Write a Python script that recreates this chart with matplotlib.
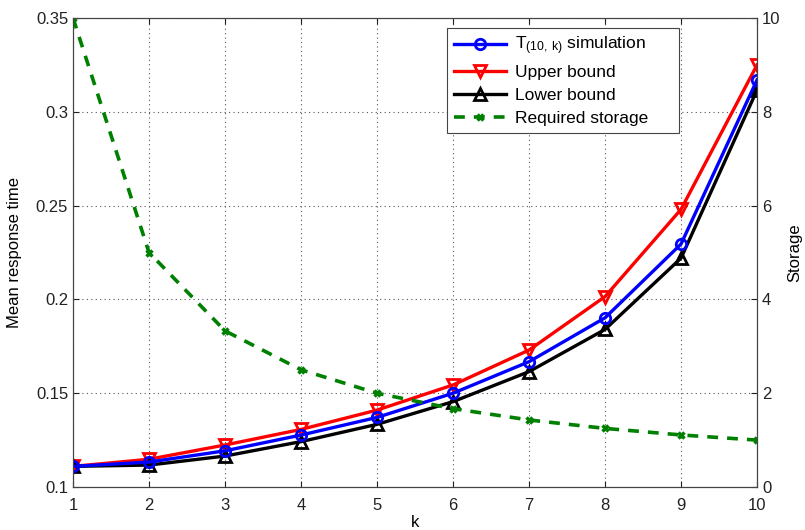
import matplotlib
matplotlib.use("Agg")
import matplotlib.pyplot as plt

plt.rcParams['font.family'] = ['Liberation Sans', 'DejaVu Sans']
plt.rcParams['mathtext.fontset'] = 'custom'
plt.rcParams['mathtext.rm'] = 'Liberation Sans'

k = [1, 2, 3, 4, 5, 6, 7, 8, 9, 10]
sim = [0.111, 0.1133, 0.1193, 0.1277, 0.1371, 0.150, 0.1668, 0.1902, 0.2295, 0.317]
upper = [0.111, 0.1148, 0.1224, 0.1307, 0.141, 0.1544, 0.173, 0.2015, 0.248, 0.325]
k_upper = [1, 2, 3, 4, 5, 6, 7, 8, 9, 10]
lower = [0.111, 0.1117, 0.1165, 0.1242, 0.1334, 0.1455, 0.1615, 0.184, 0.222, 0.3116]
storage = [10, 5, 3.33, 2.5, 2, 1.67, 1.43, 1.25, 1.11, 1]

fig = plt.figure(figsize=(8.05, 5.3), dpi=100)
ax = fig.add_axes([0.0907, 0.0811, 0.8497, 0.8849])
ax2 = ax.twinx()

l1, = ax.plot(k, sim, color='blue', lw=2.4, marker='o', ms=7.5, mfc='none', mew=2, zorder=3)
l2, = ax.plot(k_upper, upper, color='red', lw=2.4, marker='v', ms=8.5, mfc='none', mew=2, zorder=2)
l3, = ax.plot(k, lower, color='black', lw=2.4, marker='^', ms=8.5, mfc='none', mew=2, zorder=2)
l4, = ax2.plot(k, storage, color='#008000', lw=2.6, ls=(0, (3, 2.5)), marker='x', ms=5, mew=2.5)

ax.set_xlim(1, 10)
ax.set_ylim(0.1, 0.35)
ax.set_xticks(k)
ax.set_yticks([0.1, 0.15, 0.2, 0.25, 0.3, 0.35])
ax.set_yticklabels(['0.1', '0.15', '0.2', '0.25', '0.3', '0.35'])
ax2.set_ylim(0, 10)
ax2.set_yticks([0, 2, 4, 6, 8, 10])

for a in (ax, ax2):
    a.tick_params(direction='in', labelsize=12, colors='#222222', length=4)
    for s in a.spines.values():
        s.set_color('#444444')
ax.tick_params(top=True)
ax.tick_params(axis='x', pad=8)
ax.grid(True, ls=(0, (1, 3)), color='#555555', lw=0.8)

ax.set_xlabel('k', fontsize=12, labelpad=1)
ax.set_ylabel('Mean response time', fontsize=12, labelpad=10)
ax2.set_ylabel('Storage', fontsize=12, labelpad=5)

leg = ax2.legend([l1, l2, l3, l4],
                 [r'$\mathregular{T_{(10,\,k)}}$ simulation', 'Upper bound', 'Lower bound',
                  'Required storage     '],
                 loc='upper left', bbox_to_anchor=(0.547, 0.979), borderaxespad=0,
                 fontsize=12.5, fancybox=False, edgecolor='#444444', framealpha=1,
                 handlelength=3.0, borderpad=0.4, labelspacing=0.45, handletextpad=0.5)
leg.get_frame().set_linewidth(0.8)

fig.savefig('out.png', dpi=100)
